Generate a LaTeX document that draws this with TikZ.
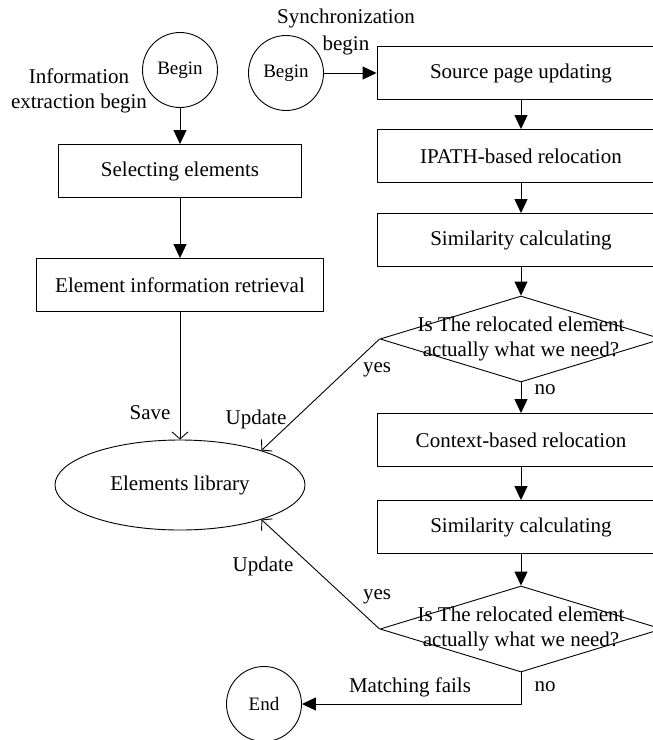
\documentclass[tikz,border=0pt]{standalone}
\usepackage{fontspec}
\setmainfont{Liberation Serif}
\usetikzlibrary{shapes.geometric,arrows.meta}
\begin{document}
\begin{tikzpicture}[x=1pt, y=-1pt, line width=0.9pt, line join=round,
  font=\fontsize{21}{25}\selectfont,
  >={Triangle[length=14pt,width=13pt]},
  box/.style={draw, rectangle, minimum height=53pt, inner sep=0pt},
  circ/.style={draw, circle, minimum size=75pt, inner sep=0pt, font=\fontsize{19}{22}\selectfont},
  decision/.style={draw, diamond, minimum width=282pt, minimum height=86pt, inner sep=0pt},
  save/.style={-{Straight Barb[length=7pt,width=16pt]}}]
\def\xr{521} \def\wr{288}
\clip (0,0) rectangle (653,740);
% left column
\node[circ] (begin1) at (180,70) {Begin};
\node[align=center] (info) at (79,91) {Information\\extraction begin};
\node[box, minimum width=243pt] (select) at (180,171) {Selecting elements};
\node[box, minimum width=287pt] (retrieve) at (180,285) {Element information retrieval};
\node[draw, ellipse, minimum width=250pt, minimum height=90pt] (lib) at (180,485) {Elements library};
\node[circ] (end) at (264,704) {End};
% right column
\node[circ] (begin2) at (286,73) {Begin};
\node[align=center, font=\fontsize{21}{27}\selectfont] (sync) at (346,32) {Synchronization\\begin};
\node[box, minimum width=\wr pt] (source) at (\xr,73) {Source page updating};
\node[box, minimum width=\wr pt] (ipath) at (\xr,156) {IPATH-based relocation};
\node[box, minimum width=\wr pt] (sim1) at (\xr,240) {Similarity calculating};
\node[decision] (d1) at (\xr,339) {};
\node[align=center] (q1) at (d1) {Is The relocated element\\actually what we need?};
\node[box, minimum width=\wr pt] (context) at (\xr,440) {Context-based relocation};
\node[box, minimum width=\wr pt] (sim2) at (\xr,527) {Similarity calculating};
\node[decision] (d2) at (\xr,629) {};
\node[align=center] (q2) at (d2) {Is The relocated element\\actually what we need?};
% arrows
\draw[->] (begin1) -- (select);
\draw[->] (select) -- (retrieve);
\draw[save] (retrieve) -- (lib);
\draw[->] (begin2) -- (source);
\draw[->] (source) -- (ipath);
\draw[->] (ipath) -- (sim1);
\draw[->] (sim1) -- (d1);
\draw[->] (d1) -- (context);
\draw[->] (context) -- (sim2);
\draw[->] (sim2) -- (d2);
\draw[save] (d1.west) -- (lib.23);
\draw[save] (d2.west) -- (lib.-23);
\draw[->] (d2.south) |- (end.east);
% labels
\node (save) at (150,413) {Save};
\node (up1) at (256,419) {Update};
\node (yes1) at (377,370) {yes};
\node (no1) at (545,390) {no};
\node (up2) at (263,566) {Update};
\node (yes2) at (377,597) {yes};
\node (fail) at (410,687) {Matching fails};
\node (no2) at (545,687) {no};
\end{tikzpicture}
\end{document}
